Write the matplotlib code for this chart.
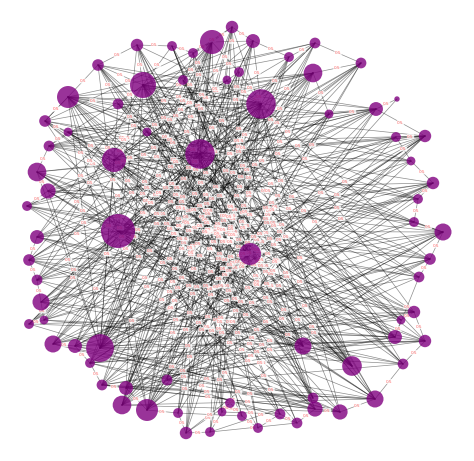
import matplotlib
matplotlib.use("Agg")
import matplotlib.pyplot as plt

node_x = [212,143,68,261,200,114,118,250,100,352,303,147,122,232,137,172,253,193,98,289,315,313,361,239,118,183,227,397,376,45,329,425,147,68,396,49,37,411,433,48,27,418,414,37,443,29,430,37,419,41,414,401,44,425,53,75,395,29,403,90,375,102,126,167,313,340,315,280,230,242,210,186,178,297,258,222]
node_y = [42,85,97,104,154,160,231,254,348,366,346,410,405,27,45,46,41,53,65,57,43,73,63,72,104,80,80,99,109,121,114,136,132,132,137,146,172,161,183,191,206,199,222,237,232,260,259,280,277,302,312,320,320,341,344,346,337,324,364,363,399,385,388,380,398,412,409,414,403,416,432,433,413,423,428,412]
node_size = [300,350,250,450,450,300,600,250,400,200,150,250,180,80,80,50,100,50,70,50,60,180,60,50,60,50,40,15,100,70,40,80,40,40,50,60,180,40,80,120,50,50,50,100,150,70,70,60,60,150,80,40,40,80,150,100,100,50,60,50,150,60,100,60,60,120,120,60,50,50,50,80,50,60,50,40]

edges_txt = """
6-0 6-1 6-3 6-4 6-7 6-9 6-10 6-11 6-21 6-28 6-31 6-38 6-44 6-46 6-50 6-53 6-56 6-60 6-65 6-66 6-36 6-39 6-43 6-29 6-2 6-18 6-14 6-57 6-55 6-73 6-67 6-22 6-41 6-48
4-0 4-2 4-5 4-8 4-9 4-11 4-12 4-13 4-20 4-22 4-28 4-31 4-34 4-36 4-40 4-44 4-47 4-49 4-54 4-58 4-60 4-64 4-66 4-71 4-74 4-43 4-29 4-52
3-1 3-2 3-5 3-8 3-10 3-12 3-14 3-18 3-24 3-33 3-35 3-39 3-45 3-49 3-54 3-59 3-62 3-63 3-68 3-70 3-71 3-72 3-46 3-50 3-65 3-57 3-40
1-7 1-9 1-10 1-16 1-19 1-20 1-28 1-30 1-37 1-41 1-42 1-48 1-51 1-56 1-62 1-64 1-67 1-69 1-73 1-75 1-43 1-47
8-0 8-5 8-7 8-13 8-16 8-21 8-22 8-26 8-30 8-31 8-34 8-38 8-42 8-50 8-53 8-58 8-65 8-2 8-36 8-39 8-24 8-17
7-2 7-5 7-12 7-14 7-18 7-24 7-29 7-33 7-36 7-40 7-45 7-49 7-52 7-55 7-59 7-61 7-63 7-13 7-15 7-22 7-31 7-38 7-60 7-70
2-9 2-10 2-11 2-20 2-21 2-30 2-37 2-41 2-46 2-56 2-64 2-66 2-74 2-44
5-9 5-16 5-19 5-23 5-26 5-28 5-37 5-42 5-48 5-51 5-58 5-65 5-67 5-69 5-56 5-44
0-11 0-12 0-29 0-35 0-39 0-43 0-47 0-54 0-55 0-59 0-61 0-63 0-72 0-75 0-52 0-45
9-13 9-14 9-17 9-18 9-24 9-25 9-29 9-33 9-35 9-40 9-36 9-45
10-14 10-15 10-18 10-25 10-29 10-33 10-36 10-39 10-43 10-52
11-16 11-19 11-20 11-21 11-22 11-28 11-30 11-34 11-37 11-31 11-46
12-20 12-23 12-27 12-30 12-31 12-41 12-44 12-48 12-16
21-24 21-29 21-33 21-35 21-40 21-45 21-49 21-54 21-55 21-62 21-71
28-33 28-35 28-39 28-43 28-47 28-57 28-61 28-72 28-18
31-35 31-36 31-40 31-49 31-54 31-59 31-62 31-24
38-39 38-43 38-47 38-54 38-55 38-61 38-63 38-29
44-47 44-49 44-54 44-59 44-62 44-63 44-71 44-39
46-54 46-55 46-61 46-63 46-36 46-40 46-33
50-57 50-59 50-62 50-35 50-43 50-29
53-55 53-59 53-61 53-45 53-36 53-49
56-57 56-59 56-61 56-62 56-40 56-43 56-33
60-62 60-63 60-12 60-61 60-45 60-39 60-36
65-12 65-62 65-55 65-49 65-47
66-61 66-59 66-54 66-40 66-35
13-71 13-72 13-62 13-70 14-67 14-69 14-73 15-66 15-64 15-60
16-71 16-63 16-59 17-74 17-75 17-65 18-58 18-51 18-64
19-62 19-72 19-55 20-57 20-61 20-47 22-45 22-49 22-54 22-57
23-61 23-75 24-58 24-50 24-48 25-53 25-56 25-60 26-58 26-64
27-28 30-47 30-52 30-57 32-51 32-53 32-60 32-64 33-42 33-41
34-43 34-45 34-52 35-41 35-37 37-47 37-55 39-42 40-48 41-45
42-52 43-51 45-50 47-58 48-54 49-58 51-55 52-56 54-64 55-60
57-66 58-62 59-67 61-64 63-73 64-70 67-75 68-71 69-72 70-73
0-13 0-16 0-17 0-23 1-14 1-15 1-18 1-24 3-16 3-19 3-21 3-23 3-26
4-25 4-32 5-33 5-35 2-29 2-18 36-39 39-40 43-45 45-47 47-49 49-52 52-57
54-55 55-59 59-61 61-62 62-11 11-72 72-71 71-70 70-75 75-68 68-69 69-74 74-67 67-73 73-66 66-65 65-60 60-58 58-53 53-50 50-51 51-56 56-48 48-46 46-44 44-42 42-41 41-38 38-37 37-34 34-31 31-28 28-30 30-21 21-22 22-20 20-19 19-16 16-13 13-17 17-15 15-14 14-18 18-24 24-2 2-29 29-33 33-35 35-36
"""
edges = [tuple(int(v) for v in p.split("-")) for p in edges_txt.split()]
edge_labels = ["0.5"] * len(edges)

fig = plt.figure(figsize=(4.74, 4.61), dpi=100)
ax = fig.add_axes([0, 0, 1, 1])
for (a, b), lab in zip(edges, edge_labels):
    ax.plot([node_x[a], node_x[b]], [node_y[a], node_y[b]], color="black", lw=0.5, alpha=0.45, zorder=1)
    ax.text((node_x[a] + node_x[b]) / 2, (node_y[a] + node_y[b]) / 2, lab, fontsize=3, color="#ff6666",
            ha="center", va="center", zorder=2,
            bbox=dict(boxstyle="round,pad=0.1", fc="white", ec="none", alpha=0.8))
ax.scatter(node_x, node_y, s=node_size, color="purple", alpha=0.8, edgecolors="none", zorder=3)
ax.set_xlim(0, 474)
ax.set_ylim(461, 0)
ax.axis("off")
fig.savefig("out.png", dpi=100, facecolor="white")
